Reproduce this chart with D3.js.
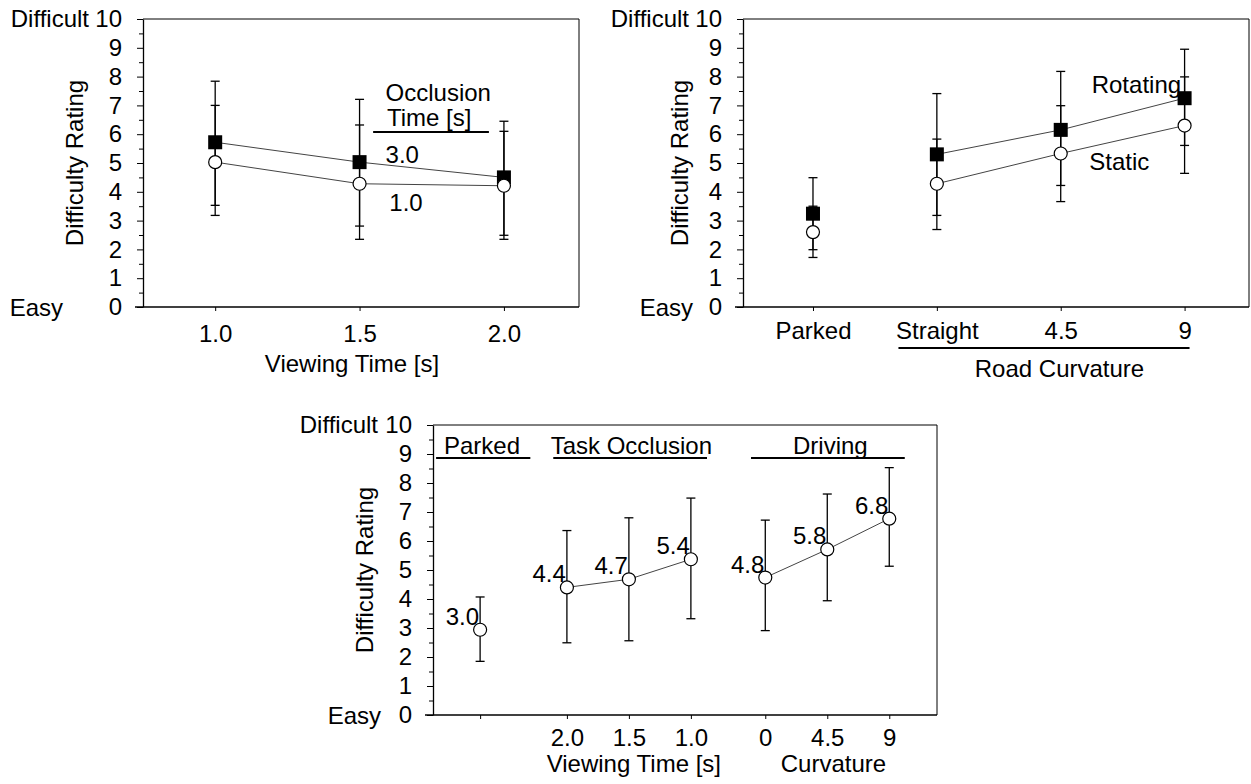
<!DOCTYPE html>
<html><head><meta charset="utf-8">
<script src="https://cdn.jsdelivr.net/npm/d3@7"></script>
<style>
body{margin:0;background:#fff;}
svg text{font-family:"Liberation Sans",Arial,Helvetica,sans-serif;font-size:24px;fill:#000;}
</style></head>
<body>
<svg id="c" width="1251" height="784"></svg>
<script>
// ---------- data ----------
const yTicks = [0,1,2,3,4,5,6,7,8,9,10];

// Panel 1: viewing time x occlusion time
const p1Categories = [1.0, 1.5, 2.0];
const p1TickLabels = ["1.0", "1.5", "2.0"];
const p1Occl30 = [5.72, 5.03, 4.50];
const p1Occl30Lo = [3.53, 2.81, 2.49];
const p1Occl30Hi = [7.84, 7.21, 6.45];
const p1Occl10 = [5.03, 4.28, 4.21];
const p1Occl10Lo = [3.18, 2.35, 2.35];
const p1Occl10Hi = [7.00, 6.32, 6.10];

// Panel 2: road curvature x display
const p2Categories = ["Parked", "Straight", "4.5", "9"];
const p2Rotating = [3.24, 5.30, 6.15, 7.25];
const p2RotatingLo = [1.99, 3.18, 4.22, 5.61];
const p2RotatingHi = [4.49, 7.41, 8.18, 8.95];
const p2Static = [2.60, 4.28, 5.33, 6.30];
const p2StaticLo = [1.72, 2.69, 3.66, 4.64];
const p2StaticHi = [3.50, 5.83, 6.99, 7.99];

// Panel 3: combined
const p3Slots = [0, 1.4, 2.4, 3.4, 4.6, 5.6, 6.6];
const p3TickLabels = ["", "2.0", "1.5", "1.0", "0", "4.5", "9"];
const p3Values = [2.94, 4.40, 4.68, 5.37, 4.74, 5.71, 6.77];
const p3Lo = [1.85, 2.49, 2.56, 3.32, 2.91, 3.94, 5.13];
const p3Hi = [4.07, 6.36, 6.80, 7.48, 6.72, 7.62, 8.53];
const p3ValueLabels = ["3.0", "4.4", "4.7", "5.4", "4.8", "5.8", "6.8"];
const p3Groups = ["Parked", "Task Occlusion", "Driving"];

// ---------- helpers ----------
const svg = d3.select("#c");

function panel(o){
  const g = svg.append("g");
  const x = d3.scaleLinear().domain(o.xDomain).range([o.left, o.right]);
  const y = d3.scaleLinear().domain([0,10]).range([o.bottom, o.top]);
  g.append("line").attr("x1",o.left).attr("x2",o.right).attr("y1",o.top).attr("y2",o.top)
    .attr("stroke","#000").attr("stroke-width",1);
  g.append("line").attr("x1",o.right).attr("x2",o.right).attr("y1",o.top).attr("y2",o.bottom)
    .attr("stroke","#000").attr("stroke-width",1);
  const minor = g.append("g").attr("transform",`translate(${o.left},0)`)
    .call(d3.axisLeft(y).tickValues(d3.range(0.5,10,1)).tickSize(4).tickFormat(""));
  minor.select(".domain").remove();
  const ya = g.append("g").attr("transform",`translate(${o.left},0)`)
    .call(d3.axisLeft(y).tickValues(yTicks).tickSize(6).tickSizeOuter(0).tickPadding(15).tickFormat(d3.format("d")));
  ya.selectAll("text").style("font-size","24px");
  ya.select(".domain").attr("stroke-width",1.3);
  g.selectAll(".tick line").attr("stroke","#000");
  const xa = g.append("g").attr("transform",`translate(0,${o.bottom})`)
    .call(d3.axisBottom(x).tickValues(o.xTicks).tickSize(4).tickSizeOuter(0)
      .tickPadding(o.xPad).tickFormat((d,i)=>o.xLabels[i]));
  xa.selectAll("text").style("font-size","24px");
  xa.select(".domain").attr("d",`M${o.left-8},0H${o.right}`).attr("stroke-width",1.3);
  g.append("text").attr("x",o.left-o.diffOff).attr("y",y(10)).attr("dy","0.35em")
    .attr("text-anchor","end").text("Difficult");
  g.append("text").attr("x",o.left-o.easyOff).attr("y",y(0)).attr("dy","0.38em")
    .attr("text-anchor","end").text("Easy");
  g.append("text").attr("transform",`translate(${o.left-o.titleOff},${(o.top+o.bottom)/2}) rotate(-90)`)
    .attr("text-anchor","middle").text("Difficulty Rating");
  return {g,x,y};
}

function errorBars(P, xs, lo, hi){
  const eb = P.g.append("g").attr("stroke","#000").attr("stroke-width",1.3);
  xs.forEach((xv,i)=>{
    const cx = P.x(xv);
    eb.append("line").attr("x1",cx).attr("x2",cx).attr("y1",P.y(lo[i])).attr("y2",P.y(hi[i]));
    [lo[i],hi[i]].forEach(v=>{
      eb.append("line").attr("x1",cx-4.5).attr("x2",cx+4.5).attr("y1",P.y(v)).attr("y2",P.y(v));
    });
  });
}
function connect(P, xs, vals){
  const line = d3.line().x(d=>P.x(d[0])).y(d=>P.y(d[1]));
  P.g.append("path").attr("d",line(xs.map((xv,i)=>[xv,vals[i]])))
    .attr("fill","none").attr("stroke","#444").attr("stroke-width",1);
}
function squares(P, xs, vals){
  P.g.selectAll(null).data(vals).enter().append("rect")
    .attr("x",(d,i)=>P.x(xs[i])-7).attr("y",d=>P.y(d)-7)
    .attr("width",14).attr("height",14).attr("fill","#000");
}
function circles(P, xs, vals){
  P.g.selectAll(null).data(vals).enter().append("circle")
    .attr("cx",(d,i)=>P.x(xs[i])).attr("cy",d=>P.y(d)).attr("r",6.5)
    .attr("fill","#fff").attr("stroke","#000").attr("stroke-width",1.2);
}

// ---------- Panel 1 ----------
const P1 = panel({left:143,right:579,top:19,bottom:307,xDomain:[0.75,2.26],
  xTicks:p1Categories,xLabels:p1TickLabels,xPad:14,diffOff:54,easyOff:80,titleOff:60});
errorBars(P1,p1Categories,p1Occl30Lo,p1Occl30Hi);
errorBars(P1,p1Categories,p1Occl10Lo,p1Occl10Hi);
connect(P1,p1Categories,p1Occl30);
connect(P1,p1Categories,p1Occl10);
squares(P1,p1Categories,p1Occl30);
circles(P1,p1Categories,p1Occl10);
P1.g.append("text").attr("x",P1.x(1.59)).attr("y",P1.y(7.15)).text("Occlusion");
P1.g.append("text").attr("x",P1.x(1.595)).attr("y",P1.y(6.28)).text("Time [s]");
P1.g.append("line").attr("x1",P1.x(1.547)).attr("x2",P1.x(1.948)).attr("y1",P1.y(6.08)).attr("y2",P1.y(6.08))
  .attr("stroke","#000").attr("stroke-width",2);
P1.g.append("text").attr("x",P1.x(1.59)).attr("y",P1.y(5.0)).text("3.0");
P1.g.append("text").attr("x",P1.x(1.603)).attr("y",P1.y(3.33)).text("1.0");
P1.g.append("text").attr("x",352).attr("y",P1.y(0)+65).attr("text-anchor","middle").text("Viewing Time [s]");

// ---------- Panel 2 ----------
const p2Idx = p2Categories.map((d,i)=>i);
const P2 = panel({left:743,right:1249,top:19,bottom:307,xDomain:[-0.565,3.52],
  xTicks:p2Idx,xLabels:p2Categories,xPad:11,diffOff:54,easyOff:50,titleOff:55});
errorBars(P2,p2Idx,p2RotatingLo,p2RotatingHi);
errorBars(P2,p2Idx,p2StaticLo,p2StaticHi);
connect(P2,p2Idx.slice(1),p2Rotating.slice(1));
connect(P2,p2Idx.slice(1),p2Static.slice(1));
squares(P2,p2Idx,p2Rotating);
circles(P2,p2Idx,p2Static);
P2.g.append("text").attr("x",P2.x(2.25)).attr("y",P2.y(7.43)).text("Rotating");
P2.g.append("text").attr("x",P2.x(2.23)).attr("y",P2.y(4.76)).text("Static");
P2.g.append("line").attr("x1",P2.x(0.69)).attr("x2",P2.x(3.04)).attr("y1",P2.y(0)+41).attr("y2",P2.y(0)+41)
  .attr("stroke","#000").attr("stroke-width",2);
P2.g.append("text").attr("x",P2.x(1.99)).attr("y",P2.y(0)+70).attr("text-anchor","middle").text("Road Curvature");

// ---------- Panel 3 ----------
const P3 = panel({left:433,right:937,top:425,bottom:715,xDomain:[-0.76,7.37],
  xTicks:p3Slots,xLabels:p3TickLabels,xPad:10,diffOff:55,easyOff:52,titleOff:60});
errorBars(P3,p3Slots,p3Lo,p3Hi);
connect(P3,p3Slots.slice(1,4),p3Values.slice(1,4));
connect(P3,p3Slots.slice(4),p3Values.slice(4));
circles(P3,p3Slots,p3Values);
P3.g.selectAll(null).data(p3ValueLabels).enter().append("text")
  .attr("x",(d,i)=>P3.x(p3Slots[i])-1).attr("y",(d,i)=>P3.y(p3Values[i])-5)
  .attr("text-anchor","end").text(d=>d);
const grpCenter = [0.03, 2.44, 5.65];
const grpFrom = [-0.71, 1.18, 4.37];
const grpTo = [0.81, 3.66, 6.85];
p3Groups.forEach((name,i)=>{
  P3.g.append("text").attr("x",P3.x(grpCenter[i])).attr("y",P3.y(9.0)).attr("text-anchor","middle").text(name);
  P3.g.append("line").attr("x1",P3.x(grpFrom[i])).attr("x2",P3.x(grpTo[i]))
    .attr("y1",P3.y(8.86)).attr("y2",P3.y(8.86)).attr("stroke","#000").attr("stroke-width",2);
});
P3.g.append("text").attr("x",P3.x(2.48)).attr("y",P3.y(0)+57).attr("text-anchor","middle").text("Viewing Time [s]");
P3.g.append("text").attr("x",P3.x(5.7)).attr("y",P3.y(0)+57).attr("text-anchor","middle").text("Curvature");
</script>
</body></html>
